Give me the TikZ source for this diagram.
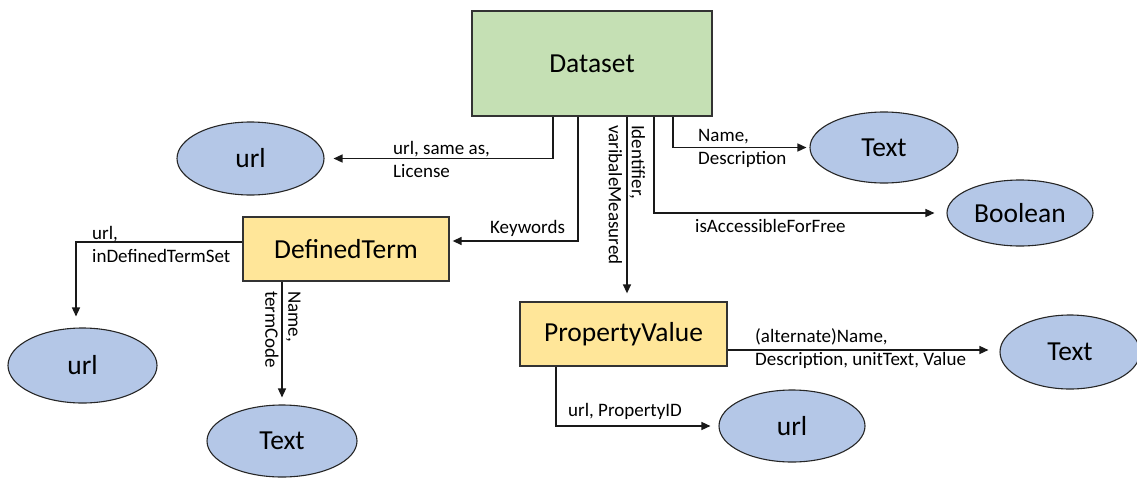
\documentclass[tikz,border=0pt]{standalone}
\usepackage{fontspec}
\setmainfont{Carlito}
\usetikzlibrary{shapes.geometric,arrows.meta,calc}
\definecolor{dsgreen}{HTML}{C5E0B4}
\definecolor{clsyellow}{HTML}{FFE699}
\definecolor{valblue}{HTML}{B4C7E7}
\begin{document}
\begin{tikzpicture}[x=1pt,y=-1pt,
  entity/.style={draw=black!80, line width=1.3pt, inner sep=0pt,
    font=\fontsize{27.5}{32}\selectfont},
  val/.style={ellipse, draw=black!85, line width=1.1pt, fill=valblue, inner sep=0pt,
    font=\fontsize{27.5}{32}\selectfont},
  lbl/.style={font=\fontsize{19}{23}\selectfont, inner sep=0pt, align=left},
  arr/.style={line width=1.4pt, draw=black!90, -{Triangle[length=9pt,width=8pt]}}]
\useasboundingbox (0,0) rectangle (1137,477);

% classes
\node[entity, fill=dsgreen, minimum width=240pt, minimum height=105pt] (ds) at (592,63.5) {Dataset};
\node[entity, fill=clsyellow, minimum width=206pt, minimum height=64pt] (dt) at (346,249) {DefinedTerm};
\node[entity, fill=clsyellow, minimum width=207pt, minimum height=64pt] (pv) at (623.5,334) {PropertyValue};

% value types
\node[val, minimum width=147pt, minimum height=73pt] (u1) at (250.5,158.5) {url};
\node[val, minimum width=148pt, minimum height=71pt] (t1) at (884,147.5) {Text};
\node[val, minimum width=146pt, minimum height=66pt] (bo) at (1020,213) {Boolean};
\node[val, minimum width=149pt, minimum height=75pt] (u2) at (82.5,365.5) {url};
\node[val, minimum width=150pt, minimum height=72pt] (t2) at (282,441) {Text};
\node[val, minimum width=140pt, minimum height=74pt] (t3) at (1070,352) {Text};
\node[val, minimum width=146pt, minimum height=72pt] (u3) at (792,426) {url};

% exit points
\coordinate (o1) at ([xshift=-39pt]ds.south);
\coordinate (o2) at ([xshift=-14pt]ds.south);
\coordinate (o3) at ([xshift=35pt]ds.south);
\coordinate (o4) at ([xshift=62pt]ds.south);
\coordinate (o5) at ([xshift=81pt]ds.south);
\coordinate (dl) at ([yshift=7pt]dt.west);
\coordinate (dd) at ([xshift=-64pt]dt.south);
\coordinate (pr) at ([yshift=-16pt]pv.east);
\coordinate (pd) at ([xshift=-67.5pt]pv.south);

% connectors
\draw[arr, shorten >=9pt] (o1) |- (u1.east);
\draw[arr, shorten >=3pt] (o2) |- ([yshift=8pt]dt.east);
\draw[arr, shorten >=8pt] (o3) -- (o3 |- pv.north);
\draw[arr, shorten >=12pt] (o4) |- (bo.west);
\draw[arr, shorten >=3pt] (o5) |- (t1.west);
\draw[arr, shorten >=11pt] (dl) -| ([xshift=-6.5pt]u2.north);
\draw[arr, shorten >=7pt] (dd) -- (dd |- t2.north);
\draw[arr, shorten >=11pt] (pr) -- (pr -| t3.west);
\draw[arr, shorten >=8pt] (pd) |- (u3.west);

% property labels
\node[lbl, anchor=west] (l1) at (393,159) {url, same as,\\License};
\node[lbl, anchor=west] (l2) at (490,228) {Keywords};
\node[lbl, anchor=west, rotate=-90] (l3) at (627,125) {Identifier,\\varibaleMeasured};
\node[lbl, anchor=west] (l4) at (695,226) {isAccessibleForFree};
\node[lbl, anchor=west] (l5) at (698,148) {Name,\\Description};
\node[lbl, anchor=west] (l6) at (92,244) {url,\\inDefinedTermSet};
\node[lbl, anchor=west, rotate=-90] (l7) at (283,291) {Name,\\termCode};
\node[lbl, anchor=west] (l8) at (755,349) {(alternate)Name,\\Description, unitText, Value};
\node[lbl, anchor=west] (l9) at (568,411) {url, PropertyID};
\end{tikzpicture}
\end{document}
